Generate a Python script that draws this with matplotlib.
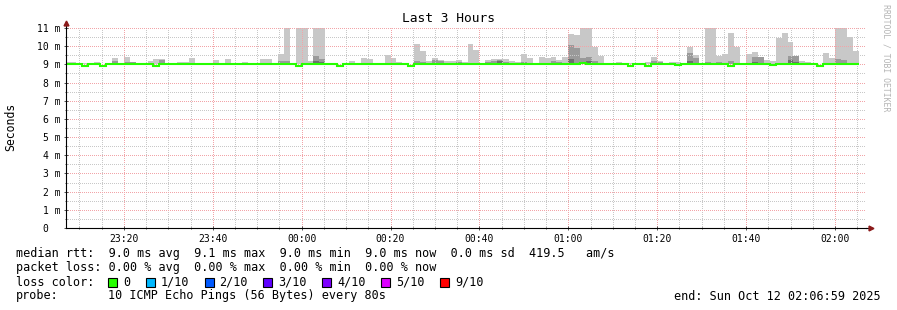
import numpy as np
import matplotlib.pyplot as plt
from matplotlib.patches import Rectangle

plt.rcParams['font.family'] = 'DejaVu Sans Mono'

# ping samples, one every 80 s, first one starts 23:06:40 (minutes from midnight)
first_sample_min = -53 - 20 / 60
step_min = 80 / 60
view_start, view_end = -53 - 1 / 60, 126 + 59 / 60   # 23:06:59 .. 02:06:59

# median rtt in ms
median_rtt = [9.0] * 134
for i in [3, 6, 15, 39, 46, 58, 95, 98, 112, 127]:
    median_rtt[i] = 8.92
median_rtt[103] = 8.95
median_rtt[119] = 8.96
median_rtt[33] = 9.04
median_rtt[43] = 9.03
median_rtt[87] = 9.06

# outer smoke (highest ping of the round), ms
smoke_max = [
    9.13, 9.13, 9.07, 9.07, 9.07, 9.13, 9.04, 9.04, 9.35, 9.04,
    9.40, 9.13, 9.00, 9.07, 9.18, 9.29, 9.29, 9.09, 9.04, 9.13,
    9.13, 9.35, 9.00, 9.00, 9.00, 9.24, 9.07, 9.29, 9.04, 9.00,
    9.13, 9.07, 9.00, 9.29, 9.29, 9.09, 9.57, 11.5, 9.00, 11.5,
    11.5, 9.18, 11.5, 11.5, 9.00, 9.07, 9.00, 9.07, 9.18, 9.07,
    9.35, 9.29, 9.00, 9.00, 9.51, 9.35, 9.13, 9.00, 9.00, 10.12,
    9.73, 9.18, 9.35, 9.24, 9.18, 9.18, 9.24, 9.13, 10.12, 9.79,
    9.00, 9.24, 9.29, 9.29, 9.29, 9.18, 9.13, 9.57, 9.35, 9.00,
    9.40, 9.35, 9.40, 9.24, 9.40, 10.67, 10.60, 11.5, 11.5, 9.97,
    9.46, 9.00, 9.00, 9.13, 9.07, 9.07, 9.07, 9.00, 9.13, 9.40,
    9.18, 9.07, 9.13, 9.13, 9.07, 9.95, 9.51, 9.07, 11.5, 11.5,
    9.48, 9.57, 10.72, 9.95, 9.07, 9.57, 9.68, 9.40, 9.24, 9.18,
    10.45, 10.72, 10.23, 9.48, 9.18, 9.13, 9.00, 9.00, 9.62, 9.35,
    11.5, 11.5, 10.50, 9.73,
]

# middle smoke band
smoke_mid = [9.0] * 134
for i, v in {0: 9.07, 1: 9.09, 5: 9.09, 8: 9.18, 10: 9.13, 11: 9.13, 16: 9.24,
             17: 9.09, 31: 9.07, 36: 9.18, 37: 9.18, 42: 9.48, 43: 9.31, 48: 9.09,
             59: 9.18, 60: 9.13, 62: 9.24, 63: 9.18, 65: 9.09, 66: 9.13, 68: 9.09,
             71: 9.13, 72: 9.18, 73: 9.24, 74: 9.13, 77: 9.13, 82: 9.18, 83: 9.13,
             85: 10.05, 86: 9.90, 87: 9.35, 88: 9.40, 89: 9.20, 99: 9.18, 100: 9.13,
             104: 9.07, 105: 9.61, 106: 9.35, 108: 9.13, 110: 9.13, 112: 9.18,
             116: 9.40, 117: 9.40, 122: 9.48, 123: 9.48, 130: 9.29, 131: 9.24,
             132: 9.07}.items():
    smoke_mid[i] = v

# inner (darkest) smoke band
smoke_inner = [9.0] * 134
for i, v in {42: 9.18, 43: 9.15, 73: 9.18, 82: 9.09, 85: 9.30, 87: 9.13,
             88: 9.18, 100: 9.09, 105: 9.18, 116: 9.13, 122: 9.24, 123: 9.13}.items():
    smoke_inner[i] = v

x_major = [-40, -20, 0, 20, 40, 60, 80, 100, 120]
x_labels = ['23:20', '23:40', '00:00', '00:20', '00:40', '01:00', '01:20', '01:40', '02:00']
y_major = list(range(12))
y_labels = ['0  '] + [f'{v} m' for v in range(1, 12)]

rtt_stats = ['9.0 ms avg', '9.1 ms max', '9.0 ms min', '9.0 ms now', '0.0 ms sd', '419.5   am/s']
loss_stats = ['0.00 % avg', '0.00 % max', '0.00 % min', '0.00 % now']
loss_labels = ['0', '1/10', '2/10', '3/10', '4/10', '5/10', '9/10']
loss_colors = ['#26ff00', '#00b8ff', '#0059ff', '#5e00ff', '#7e00ff', '#dd00ff', '#ff0000']

W, H = 897, 310
fig = plt.figure(figsize=(W / 100, H / 100), dpi=100)


def fx(px):
    return px / W


def fy(py):
    return 1 - py / H


ax = fig.add_axes([fx(66), fy(228), 800 / W, 200 / H])
edges = first_sample_min + step_min * np.arange(len(smoke_max) + 1)

ax.stairs(smoke_max, edges, baseline=9.0, fill=True, color='#c8c8c8', lw=0)
ax.stairs(smoke_mid, edges, baseline=9.0, fill=True, color='#9a9a9a', lw=0)
ax.stairs(smoke_inner, edges, baseline=9.0, fill=True, color='#6e6e6e', lw=0)
ax.stairs(median_rtt, edges, baseline=None, color=loss_colors[0], lw=1.5, zorder=3)

ax.set_xlim(view_start, view_end)
ax.set_ylim(0, 11)
ax.set_xticks(x_major)
ax.set_xticklabels(x_labels, fontsize=7)
ax.set_xticks(np.arange(-50, 127, 5), minor=True)
ax.set_yticks(y_major)
ax.set_yticklabels(y_labels, fontsize=7)
ax.set_yticks(np.arange(0.5, 11, 1), minor=True)
ax.tick_params(which='both', direction='inout', color='#505050', width=0.7)
ax.tick_params(which='major', length=3.5, pad=2.3)
ax.tick_params(which='minor', length=2)

# rrdtool style dotted grid over the smoke; half-pixel dash offset keeps dots crisp
ax.set_axisbelow(False)
ax.grid(which='major', color='#f2a4a8', linestyle=(0.5, (1, 1)), lw=0.72, snap=True)
ax.grid(which='minor', color='#c8c8c8', linestyle=(0.5, (1, 1)), lw=0.72, snap=True)

for s in ['top', 'right']:
    ax.spines[s].set_visible(False)
for s in ['left', 'bottom']:
    ax.spines[s].set_color('black')
    ax.spines[s].set_linewidth(0.8)
    ax.spines[s].set_zorder(4)

# axis arrows
ax.plot([1, 1 + 5 / 800], [0, 0], transform=ax.transAxes, color='black', lw=0.8, clip_on=False)
ax.plot(1 + 5 / 800, 0, marker='>', ms=3.5, color='#8b1a1a', transform=ax.transAxes, clip_on=False)
ax.plot([0, 0], [1, 1 + 5 / 200], transform=ax.transAxes, color='black', lw=0.8, clip_on=False)
ax.plot(0, 1 + 5 / 200, marker='^', ms=3.5, color='#8b1a1a', transform=ax.transAxes, clip_on=False)

fig.text(fx(448), fy(19), 'Last 3 Hours', ha='center', va='center', fontsize=9.3)
fig.text(fx(11), fy(127), 'Seconds', rotation=90, ha='center', va='center', fontsize=8.3)
fig.text(fx(886), fy(4), 'RRDTOOL / TOBI OETIKER', rotation=270, ha='center', va='top',
         fontsize=5.9, color='#b4b4b4')

fs = 8.5
fig.text(fx(16), fy(254), 'median rtt:  ' + '  '.join(rtt_stats), va='center', fontsize=fs)
fig.text(fx(16), fy(268), 'packet loss: ' + '  '.join(loss_stats), va='center', fontsize=fs)
fig.text(fx(16), fy(282), 'loss color:', va='center', fontsize=fs)
bx = 108
for lab, col in zip(loss_labels, loss_colors):
    fig.patches.append(Rectangle((fx(bx), fy(286.5)), 9 / W, 9 / H, transform=fig.transFigure,
                                 facecolor=col, edgecolor='black', lw=0.8))
    fig.text(fx(bx + 15), fy(282), lab, va='center', fontsize=fs)
    bx += 15 + 7.1 * len(lab) + 15.5
fig.text(fx(16), fy(296), 'probe:', va='center', fontsize=fs)
fig.text(fx(108), fy(296), '10 ICMP Echo Pings (56 Bytes) every 80s', va='center', fontsize=fs)
fig.text(fx(881), fy(296), 'end: Sun Oct 12 02:06:59 2025', ha='right', va='center', fontsize=fs)

fig.savefig('out.png', dpi=100)
